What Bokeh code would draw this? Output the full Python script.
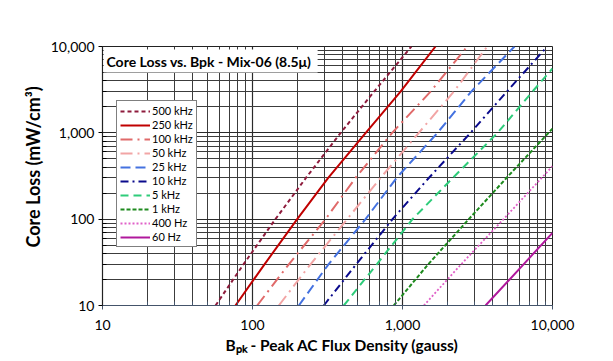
from bokeh.plotting import figure
from bokeh.models import (FixedTicker, NumeralTickFormatter, Label, Legend, LegendItem, Title)
from bokeh.embed import file_html
from bokeh.resources import INLINE

# ---- data (flux density B at the loss grid levels) ----
series_names = ["500 kHz", "250 kHz", "100 kHz", "50 kHz", "25 kHz",
                "10 kHz", "5 kHz", "1 kHz", "400 Hz", "60 Hz"]
p_levels = [10, 30, 100, 300, 1000, 3000, 10000]

b_500k = [56.7, 87.1, 142.2, 227, 387, 646, 1146]
p_500k = p_levels
b_250k = [77.0, 120.2, 198.6, 319.6, 568.6, 970, 1660]
p_250k = p_levels
b_100k = [107.4, 174.6, 306.7, 486, 853, 1537, 2699]
p_100k = p_levels
b_50k = [149.7, 243.6, 427.6, 713, 1284, 2198, 3671]
p_50k = p_levels
b_25k = [203.6, 321, 567, 912, 1711, 2870, 5580]
p_25k = p_levels
b_10k = [298.6, 491, 858, 1497, 2840, 4958, 9220]
p_10k = p_levels
b_5k = [406, 674, 1166, 2163, 4300, 7350, 10000]
p_5k = [10, 30, 100, 300, 1000, 3000, 5560]
b_1k = [875, 1483, 2767, 4933, 10000]
p_1k = [10, 30, 100, 300, 1120]
b_400 = [1387, 2461, 4715, 10000]
p_400 = [10, 30, 100, 411]
b_60 = [3577, 6412, 10000]
p_60 = [10, 30, 69.5]

decades = [10, 100, 1000, 10000]

series_b = [b_500k, b_250k, b_100k, b_50k, b_25k, b_10k, b_5k, b_1k, b_400, b_60]
series_p = [p_500k, p_250k, p_100k, p_50k, p_25k, p_10k, p_5k, p_1k, p_400, p_60]
colors = ["#8E1B3C", "#C00000", "#E06A6A", "#F2A5A5", "#4472E0",
          "#0A0A8C", "#2ECC7A", "#1E8A1E", "#E060C8", "#B0189C"]
dashes = ["4 3", "solid", "12 5 2 5", "12 5 2 5", "10 5",
          "8 4 2 4", "8 5", "4 2", "2 2", "solid"]
widths = [2, 2, 2, 2, 2, 2, 2, 2, 1.8, 2]

FONT = "Lato"

p = figure(width=605, height=359, x_axis_type="log", y_axis_type="log",
           x_range=(10, 10000), y_range=(10, 10000),
           output_backend="svg", toolbar_location=None,
           min_border_left=102, min_border_right=53,
           min_border_top=46, min_border_bottom=54)
p.background_fill_color = "white"
p.border_fill_color = "white"
p.outline_line_color = "#222222"
p.outline_line_width = 1

minor = [d * k for d in decades[:-1] for k in range(2, 10)]
for ax in (p.xaxis[0], p.yaxis[0]):
    ax.ticker = FixedTicker(ticks=decades, minor_ticks=minor)
    ax.formatter = NumeralTickFormatter(format="0,0")
    ax.major_label_text_font = FONT
    ax.major_label_text_font_size = "14px"
    ax.major_label_text_color = "#000000"
    ax.major_tick_out = 4
    ax.major_tick_in = 0
    ax.minor_tick_in = 4
    ax.minor_tick_out = 0
    ax.axis_line_width = 1.2
p.xaxis.axis_line_color = "#44546A"
p.xaxis.major_tick_line_color = "#44546A"
p.xaxis.minor_tick_line_color = "#44546A"
p.yaxis.axis_line_color = "#222222"
p.xaxis.major_label_standoff = 10
p.yaxis.major_label_standoff = 4

for g in (p.xgrid[0], p.ygrid[0]):
    g.grid_line_color = "#2a2a2a"
    g.grid_line_width = 1.2
    g.minor_grid_line_color = "#3c3c3c"
    g.minor_grid_line_width = 1

items = []
for name, bs, ps, c, d, w in zip(series_names, series_b, series_p, colors, dashes, widths):
    r = p.line(bs, ps, line_color=c, line_dash=d, line_width=w)
    items.append(LegendItem(label=name, renderers=[r]))

legend = Legend(items=items, location=(14, 58), orientation="vertical",
                label_text_font=FONT, label_text_font_size="11px",
                label_text_color="#000000",
                glyph_width=30, glyph_height=12, label_height=12,
                spacing=1, padding=3, margin=0, label_standoff=2,
                border_line_color="#000000", border_line_width=1,
                background_fill_color="white", background_fill_alpha=1)
p.add_layout(legend, "center")

title = Label(x=1, y=256, x_units="screen", y_units="screen",
              text="Core Loss vs. Bpk - Mix-06  (8.5\u03bc)",
              text_font=FONT, text_font_style="bold", text_font_size="14px",
              text_color="#000000",
              text_baseline="top", text_align="left",
              background_fill_color="white", background_fill_alpha=1,
              padding=3)
p.add_layout(title)

ytitle = Title(text="Core Loss (mW/cm\u00b3)", align="left", offset=58,
               text_font=FONT, text_font_style="bold", text_font_size="18px",
               text_color="#000000", standoff=8)
p.add_layout(ytitle, "left")

xtitle = Title(text="B\u209a\u2096 - Peak AC Flux Density (gauss)", align="left", offset=123,
               text_font=FONT, text_font_style="bold", text_font_size="15.5px",
               text_color="#000000", standoff=3)
p.add_layout(xtitle, "below")

open("out.html", "w").write(file_html(p, INLINE))
